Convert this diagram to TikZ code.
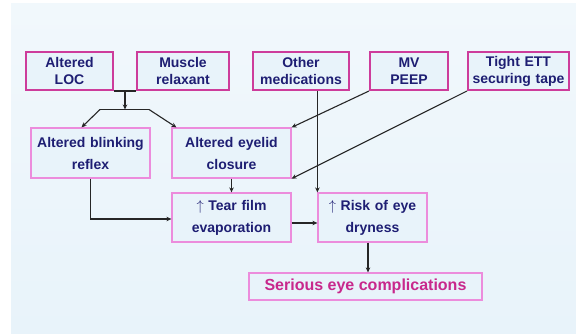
\documentclass[tikz,border=0pt]{standalone}
\definecolor{navytext}{RGB}{30, 30, 115}
\definecolor{boxmagenta}{RGB}{205, 60, 155}
\definecolor{boxpink}{RGB}{236, 140, 220}
\definecolor{alertmagenta}{RGB}{200, 40, 140}
\definecolor{slideblue}{RGB}{232, 243, 250}
\usepackage{fontspec}
\setmainfont{Liberation Sans}
\usepackage{tikz}
\usetikzlibrary{arrows.meta, positioning, calc}

\tikzset{
  cause/.style={draw=boxmagenta, line width=2pt, fill=slideblue, align=center,
    inner sep=2pt, minimum height=38pt, font=\bfseries\fontsize{14}{17}\selectfont, text=navytext},
  effect/.style={draw=boxpink, line width=1.2pt, fill=slideblue, align=center,
    inner sep=2pt, minimum height=50pt, font=\bfseries\fontsize{14}{22}\selectfont, text=navytext},
  link/.style={line width=1.1pt, draw=black!85, -{Stealth[length=5pt, width=4.5pt]}},
}

\begin{document}
\begin{tikzpicture}[x=1pt, y=-1pt]
  \useasboundingbox (0,0) rectangle (576,334);
  \fill[white] (0,0) rectangle (576,334);
  \fill[top color=slideblue!60, bottom color=slideblue] (11,4) rectangle (576,334);

  % causes
  \node[cause, minimum width=87pt, text width=83pt] (loc) at (69.5,71) {Altered\\LOC};
  \node[cause, minimum width=92pt, text width=88pt] (relax) at (183,71) {Muscle\\relaxant};
  \node[cause, minimum width=96pt, text width=92pt] (meds) at (301,71) {Other\\medications};
  \node[cause, minimum width=78pt, text width=74pt] (peep) at (409,71) {MV\\PEEP};
  \node[cause, minimum width=101pt, text width=97pt] (tape) at (518.5,71) {Tight ETT\\securing tape};

  % effects
  \node[effect, minimum width=119pt, text width=115pt] (blink) at (90.5,153) {Altered blinking\\reflex};
  \node[effect, minimum width=119pt, text width=115pt] (eyelid) at (231.5,153) {Altered eyelid\\closure};
  \node[effect, minimum width=119pt, text width=115pt, minimum height=49pt] (tear) at (231.5,217.5) {$\uparrow$ Tear film\\evaporation};
  \node[effect, minimum width=109pt, text width=105pt, minimum height=49pt] (risk) at (372.5,217.5) {$\uparrow$ Risk of eye\\dryness};
  \node[effect, minimum width=233pt, minimum height=27pt, text=alertmagenta,
    font=\bfseries\fontsize{16}{18}\selectfont] (serious) at (365.5,286.5) {Serious eye complications};

  % split below the first two causes
  \coordinate (join) at ($(loc.south east)!0.5!(relax.south west)$);
  \coordinate (splitl) at (100,109.5);
  \coordinate (splitr) at (149,109.5);
  \draw[line width=1.1pt, draw=black!85] (loc.south east) -- (relax.south west);
  \draw[link] (join) -- (join |- splitl);
  \draw[line width=1.1pt, draw=black!85] (splitl) -- (splitr);
  \draw[link] (splitl) -- ([xshift=-9pt]blink.north);
  \draw[link] (splitr) -- ([xshift=5pt]eyelid.north west);

  \draw[link] (meds.south -| risk.north west) -- (risk.north west);
  \draw[link] (peep.south west) -- (eyelid.north east);
  \draw[link] (tape.south west) -- (eyelid.south east);
  \draw[link] (eyelid.south) -- (tear.north);
  \draw[link] (blink.south) |- ([yshift=-1.5pt]tear.west);
  \draw[link] ([yshift=-5.5pt]tear.east) -- ([yshift=-5.5pt]risk.west);
  \draw[link] ([xshift=-4.5pt]risk.south) -- ([xshift=-4.5pt]risk.south |- serious.north);
\end{tikzpicture}
\end{document}
